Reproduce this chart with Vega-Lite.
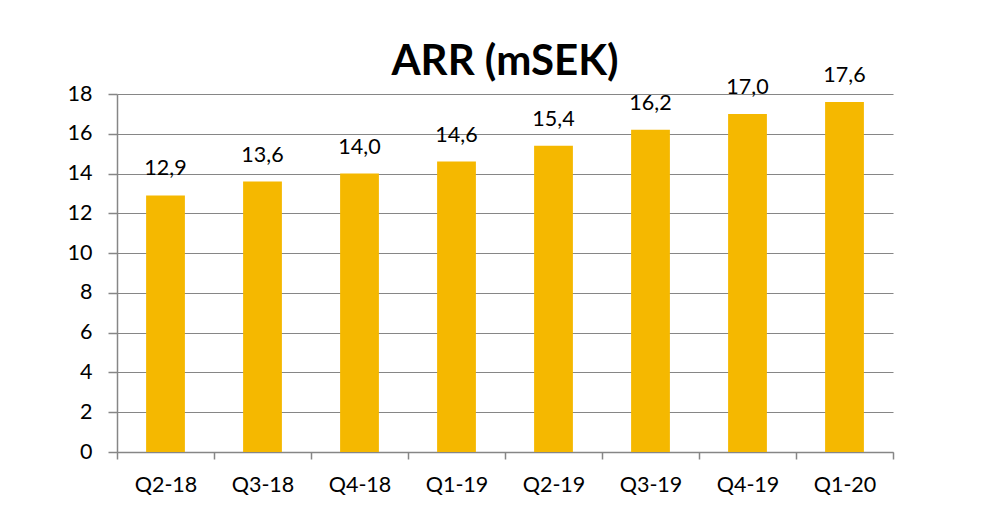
{
  "$schema": "https://vega.github.io/schema/vega-lite/v6.json",
  "width": 776,
  "height": 358,
  "autosize": {"type": "none"},
  "padding": {"left": 117, "top": 94, "right": 91, "bottom": 74},
  "background": "white",
  "title": {
    "text": "ARR (mSEK)",
    "font": "Lato",
    "fontSize": 42,
    "fontWeight": "bold",
    "color": "#000000",
    "anchor": "middle",
    "offset": -19
  },
  "data": {
    "values": [
      {"q": "Q2-18", "v": 12.9, "lbl": "12,9"},
      {"q": "Q3-18", "v": 13.6, "lbl": "13,6"},
      {"q": "Q4-18", "v": 14.0, "lbl": "14,0"},
      {"q": "Q1-19", "v": 14.6, "lbl": "14,6"},
      {"q": "Q2-19", "v": 15.4, "lbl": "15,4"},
      {"q": "Q3-19", "v": 16.2, "lbl": "16,2"},
      {"q": "Q4-19", "v": 17.0, "lbl": "17,0"},
      {"q": "Q1-20", "v": 17.6, "lbl": "17,6"}
    ]
  },
  "encoding": {
    "x": {
      "field": "q",
      "type": "nominal",
      "sort": null,
      "scale": {"paddingInner": 0, "paddingOuter": 0},
      "axis": {
        "title": null,
        "labelAngle": 0,
        "labelFont": "Lato",
        "labelFontSize": 21.5,
        "labelColor": "#000000",
        "labelPadding": 15,
        "tickBand": "extent",
        "tickSize": 7,
        "tickColor": "#868686",
        "tickWidth": 1.5,
        "domainColor": "#868686",
        "domainWidth": 1.5,
        "grid": false
      }
    },
    "y": {
      "field": "v",
      "type": "quantitative",
      "scale": {"domain": [0, 18], "nice": false},
      "axis": {
        "title": null,
        "values": [0, 2, 4, 6, 8, 10, 12, 14, 16, 18],
        "labelFont": "Lato",
        "labelFontSize": 21.5,
        "labelColor": "#000000",
        "labelPadding": 16,
        "tickSize": 9,
        "tickColor": "#868686",
        "tickWidth": 1.5,
        "domainColor": "#868686",
        "domainWidth": 1.5,
        "gridColor": "#868686",
        "gridWidth": 1.2,
        "gridOpacity": 1
      }
    }
  },
  "layer": [
    {
      "mark": {"type": "bar", "color": "#F5B800", "width": {"band": 0.4}}
    },
    {
      "mark": {"type": "text", "font": "Lato", "fontSize": 21.5, "color": "#000000", "baseline": "alphabetic", "dy": -20},
      "encoding": {"text": {"field": "lbl"}}
    }
  ],
  "config": {"view": {"stroke": null}}
}
